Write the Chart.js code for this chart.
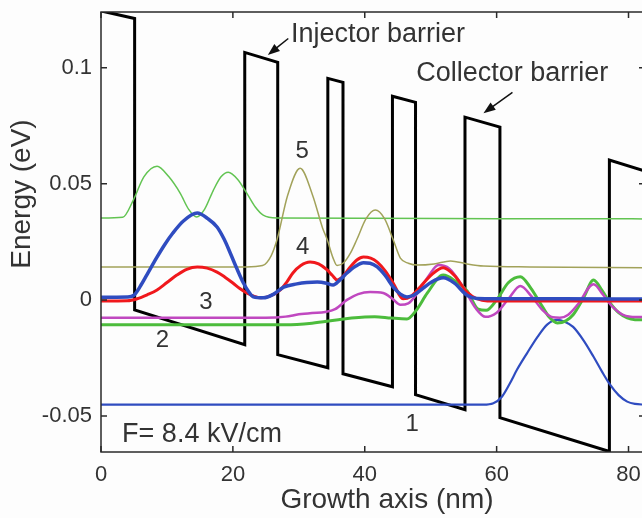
<!DOCTYPE html>
<html>
<head>
<meta charset="utf-8">
<title>Band diagram</title>
<script src="https://cdn.jsdelivr.net/npm/chart.js@4.4.1/dist/chart.umd.min.js"></script>
<style>
  html, body { margin: 0; padding: 0; background: #fdfdfd; overflow: hidden; }
  #wrap { width: 660px; height: 518px; }
</style>
</head>
<body>
<div id="wrap"><canvas id="chart" width="660" height="518"></canvas></div>
<script>
  // Axis ticks
  const xTicks = [0, 20, 40, 60, 80];
  const yTicks = [-0.05, 0, 0.05, 0.1];

  // Conduction band edge (nm, eV)
  const bandX = [0, 5.1, 5.1, 21.8, 21.8, 26.8, 26.8, 34.4, 34.4, 36.7, 36.7, 44.2, 44.2, 47.7, 47.7, 55.2, 55.2, 60.5, 60.5, 77.1, 77.1, 82.5];
  const bandE = [0.1245, 0.1212, -0.0043, -0.0193, 0.1066, 0.1023, -0.0236, -0.0292, 0.0954, 0.0937, -0.0318, -0.0374, 0.0877, 0.0851, -0.0408, -0.0473, 0.0787, 0.0744, -0.0507, -0.0653, 0.0602, 0.0555];

  // Level 1 (blue, lowest)
  const psi1X = [0, 58, 59.5, 60.8, 62, 63.1, 64.6, 66.2, 67.7, 69.2, 70.4, 71.6, 73.2, 74.7, 76, 77.2, 78.5, 79.8, 81, 82.5];
  const psi1E = [-0.0451, -0.0451, -0.0445, -0.0417, -0.036, -0.030, -0.023, -0.0159, -0.0105, -0.0086, -0.0095, -0.0116, -0.0175, -0.0245, -0.031, -0.0365, -0.041, -0.0438, -0.0448, -0.0451];

  // Level 2 (green)
  const psi2X = [0, 28, 32, 36, 38, 41.5, 44, 46.4, 47.8, 49.5, 51.9, 53.8, 55.5, 57.2, 58.4, 60, 61.8, 63.6, 65.2, 66.6, 68, 69.2, 70.5, 71.6, 73.2, 74.7, 76, 77.2, 78.5, 79.8, 81, 82.5];
  const psi2E = [-0.0107, -0.0107, -0.0100, -0.0085, -0.0078, -0.0072, -0.0078, -0.0082, -0.0045, 0.003, 0.0107, 0.008, 0.004, -0.004, -0.0045, 0.0, 0.0075, 0.0100, 0.005, -0.0013, -0.0075, -0.0099, -0.009, -0.0064, 0.001, 0.0086, 0.004, -0.0013, -0.0055, -0.0077, -0.0085, -0.0086];

  // Level 3 (magenta)
  const psi3X = [0, 25, 28, 30, 32, 34, 35.5, 37.3, 39, 40.8, 42.8, 44.2, 45.4, 46.6, 48, 49.6, 51.2, 52.8, 54.9, 56.8, 58.3, 60, 61.8, 63.6, 65.3, 67, 68.5, 69.6, 70.8, 72.3, 74.7, 76.2, 77.6, 79, 80.3, 82.5];
  const psi3E = [-0.0077, -0.0077, -0.0072, -0.0062, -0.0056, -0.0052, -0.004, 0.0, 0.0025, 0.0034, 0.003, 0.0005, -0.0021, -0.0015, 0.003, 0.010, 0.0150, 0.0135, 0.0056, -0.0035, -0.0073, -0.0055, 0.0005, 0.0060, 0.0015, -0.0045, -0.0075, -0.0077, -0.0065, -0.002, 0.0068, 0.002, -0.003, -0.0062, -0.0072, -0.0074];

  // Level 4 (red)
  const psi4X = [0, 4, 5.5, 7, 8.5, 10, 11.5, 13, 14.6, 16.1, 17.6, 18.8, 20, 21, 22.1, 23.1, 24.3, 25.5, 27.2, 28.2, 29.1, 30.3, 31.7, 33, 34.3, 35.1, 35.8, 36.8, 37.8, 38.8, 39.8, 40.9, 41.9, 43.1, 44.3, 45.8, 47, 48.4, 50.2, 51.9, 53.6, 55.5, 57, 58.6, 65, 82.5];
  const psi4E = [-0.0005, -0.0004, 0.0005, 0.0022, 0.0043, 0.0075, 0.0107, 0.0132, 0.0142, 0.0137, 0.012, 0.0098, 0.0073, 0.005, 0.003, 0.0017, 0.0009, 0.0015, 0.0043, 0.0078, 0.0116, 0.0148, 0.0163, 0.0155, 0.0129, 0.0105, 0.0086, 0.0105, 0.0142, 0.0172, 0.0185, 0.018, 0.0163, 0.0125, 0.0073, 0.0005, 0.0015, 0.0056, 0.011, 0.0138, 0.0105, 0.0034, 0.0005, -0.0005, -0.0005, -0.0005];

  // Blue thick state (peak in first well)
  const psiBX = [0, 4, 5, 5.9, 7, 8.4, 9.7, 10.9, 12.5, 14.6, 16.2, 17.6, 18.7, 19.6, 20.6, 21.6, 22.4, 23.1, 24.6, 26.2, 27.7, 29.7, 31.2, 32.8, 34.2, 35.2, 36.2, 37.3, 38.6, 39.8, 40.8, 41.9, 43.1, 44.3, 45.4, 46.4, 47.4, 48.6, 50.2, 51.9, 53.6, 55.5, 57, 60, 70, 82.5];
  const psiBE = [0.0012, 0.0013, 0.002, 0.0056, 0.011, 0.018, 0.024, 0.0288, 0.034, 0.0374, 0.035, 0.0314, 0.026, 0.0202, 0.0135, 0.0073, 0.0035, 0.0013, 0.0009, 0.0025, 0.0055, 0.0069, 0.0075, 0.0077, 0.0072, 0.0064, 0.0085, 0.0116, 0.0145, 0.016, 0.0158, 0.0142, 0.0105, 0.0056, 0.0025, 0.0013, 0.002, 0.0045, 0.0078, 0.0095, 0.0072, 0.002, 0.0006, 0.0005, 0.0005, 0.0004];

  // Level 5 (olive)
  const psi5X = [0, 22, 24.5, 25.8, 26.7, 28.3, 30.2, 32.1, 33.6, 34.3, 35.2, 35.8, 36.8, 37.8, 38.8, 40.2, 41.6, 43.0, 44.3, 45.4, 46.6, 48, 50.5, 53, 55.5, 58, 65, 82.5];
  const psi5E = [0.0142, 0.0142, 0.0148, 0.019, 0.026, 0.045, 0.0567, 0.045, 0.031, 0.026, 0.018, 0.0148, 0.016, 0.020, 0.026, 0.035, 0.0387, 0.035, 0.026, 0.018, 0.0158, 0.0150, 0.0155, 0.0168, 0.0155, 0.0146, 0.0142, 0.0138];

  // Upper state (light green)
  const psi6X = [0, 3.3, 4.9, 6.5, 8.5, 10.3, 12, 13.3, 14.5, 15.7, 17, 18.2, 19.3, 20.7, 22.1, 23.4, 24.6, 26.7, 40, 60, 82.5];
  const psi6E = [0.0353, 0.0356, 0.043, 0.053, 0.0576, 0.053, 0.046, 0.039, 0.0357, 0.039, 0.047, 0.053, 0.055, 0.052, 0.046, 0.040, 0.0365, 0.0353, 0.0352, 0.0350, 0.0349];

  // State numbers placed in data units
  const levelNames = ['1', '2', '3', '4', '5'];
  const levelNameX = [47.2, 9.3, 15.9, 30.6, 30.5];
  const levelNameE = [-0.0537, -0.0176, -0.0009, 0.0228, 0.064];

  const TEXT = '#333333';
  const FONT = '"Liberation Sans", Arial, sans-serif';

  function pts(xs, es) {
    return xs.map((x, i) => ({ x, y: es[i] }));
  }

  function curve(xs, es, color, width) {
    return {
      data: pts(xs, es),
      borderColor: color,
      borderWidth: width,
      pointRadius: 0,
      showLine: true,
      fill: false,
      cubicInterpolationMode: 'monotone',
    };
  }

  const datasets = [
    curve(psiBX, psiBE, '#2f4cc0', 3.5),
    curve(psi4X, psi4E, '#f0181c', 3),
    curve(psi3X, psi3E, '#c048c0', 2.5),
    curve(psi2X, psi2E, '#4cbc3c', 3),
    curve(psi5X, psi5E, '#a2a25a', 1.5),
    curve(psi6X, psi6E, '#62c452', 1.5),
    curve(psi1X, psi1E, '#2f4cc0', 2.2),
    {
      data: pts(bandX, bandE),
      borderColor: '#000000',
      borderWidth: 3,
      pointRadius: 0,
      showLine: true,
      fill: false,
      tension: 0,
    },
  ];

  function arrow(ctx, x0, y0, x1, y1) {
    const ang = Math.atan2(y1 - y0, x1 - x0);
    const len = 12, half = 4.5;
    ctx.beginPath();
    ctx.moveTo(x0, y0);
    ctx.lineTo(x1 - Math.cos(ang) * len * 0.8, y1 - Math.sin(ang) * len * 0.8);
    ctx.stroke();
    ctx.beginPath();
    ctx.moveTo(x1, y1);
    ctx.lineTo(x1 - Math.cos(ang) * len - Math.sin(ang) * half, y1 - Math.sin(ang) * len + Math.cos(ang) * half);
    ctx.lineTo(x1 - Math.cos(ang) * len + Math.sin(ang) * half, y1 - Math.sin(ang) * len - Math.cos(ang) * half);
    ctx.closePath();
    ctx.fill();
  }

  const decorPlugin = {
    id: 'decor',
    beforeDraw(chart) {
      const { ctx, width, height } = chart;
      ctx.save();
      ctx.fillStyle = '#fdfdfd';
      ctx.fillRect(0, 0, width, height);
      ctx.restore();
    },
    afterDatasetsDraw(chart) {
      const { ctx, chartArea: a } = chart;
      const xs = chart.scales.x, ys = chart.scales.y;

      // frame with inward ticks
      ctx.save();
      ctx.strokeStyle = '#2a2a2a';
      ctx.lineWidth = 1.5;
      ctx.strokeRect(a.left, a.top, a.right - a.left, a.bottom - a.top);
      ctx.beginPath();
      xTicks.forEach((v) => {
        const p = xs.getPixelForValue(v);
        ctx.moveTo(p, a.bottom); ctx.lineTo(p, a.bottom - 6);
        ctx.moveTo(p, a.top); ctx.lineTo(p, a.top + 6);
      });
      yTicks.forEach((v) => {
        const p = ys.getPixelForValue(v);
        ctx.moveTo(a.left, p); ctx.lineTo(a.left + 6, p);
        ctx.moveTo(a.right, p); ctx.lineTo(a.right - 6, p);
      });
      ctx.stroke();

      // state numbers
      ctx.fillStyle = TEXT;
      ctx.textAlign = 'center';
      ctx.textBaseline = 'middle';
      ctx.font = `24px ${FONT}`;
      levelNames.forEach((t, i) => {
        ctx.fillText(t, xs.getPixelForValue(levelNameX[i]), ys.getPixelForValue(levelNameE[i]));
      });

      // notes
      ctx.textAlign = 'left';
      ctx.textBaseline = 'alphabetic';
      ctx.font = `27px ${FONT}`;
      ctx.fillText('Injector barrier', xs.getPixelForValue(28.8), ys.getPixelForValue(0.1109));
      ctx.fillText('Collector barrier', xs.getPixelForValue(47.8), ys.getPixelForValue(0.0942));
      ctx.fillText('F= 8.4 kV/cm', xs.getPixelForValue(3.2), ys.getPixelForValue(-0.061));

      ctx.strokeStyle = '#111';
      ctx.fillStyle = '#111';
      ctx.lineWidth = 1.5;
      arrow(ctx, xs.getPixelForValue(28.4), ys.getPixelForValue(0.1126), xs.getPixelForValue(25.3), ys.getPixelForValue(0.1055));
      arrow(ctx, xs.getPixelForValue(62.4), ys.getPixelForValue(0.0894), xs.getPixelForValue(58.0), ys.getPixelForValue(0.0804));

      // axis titles
      ctx.fillStyle = TEXT;
      ctx.font = `28px ${FONT}`;
      ctx.textAlign = 'center';
      ctx.textBaseline = 'middle';
      ctx.fillText('Growth axis (nm)', 387, 500);
      ctx.translate(22, 194);
      ctx.rotate(-Math.PI / 2);
      ctx.fillText('Energy (eV)', 0, 0);
      ctx.restore();
    },
  };

  new Chart(document.getElementById('chart'), {
    type: 'scatter',
    data: { datasets },
    options: {
      responsive: false,
      animation: false,
      events: [],
      layout: { padding: { left: 0, top: 12, right: 15, bottom: 0 } },
      plugins: {
        legend: { display: false },
        tooltip: { enabled: false },
      },
      scales: {
        x: {
          type: 'linear',
          min: 0,
          max: 82.5,
          grid: { display: false, drawTicks: false },
          border: { display: false },
          afterBuildTicks: (s) => { s.ticks = xTicks.map((v) => ({ value: v })); },
          afterFit: (s) => { s.height = 66; s.paddingLeft = 0; s.paddingRight = 0; },
          ticks: {
            color: TEXT,
            padding: 10,
            maxRotation: 0,
            font: { family: FONT, size: 22 },
            callback: (v) => String(v),
          },
        },
        y: {
          type: 'linear',
          min: -0.0655,
          max: 0.124,
          grid: { display: false, drawTicks: false },
          border: { display: false },
          afterBuildTicks: (s) => { s.ticks = yTicks.map((v) => ({ value: v })); },
          afterFit: (s) => { s.width = 101; s.paddingTop = 0; s.paddingBottom = 0; },
          ticks: {
            color: TEXT,
            padding: 9,
            font: { family: FONT, size: 22 },
            callback: (v) => (v === 0 ? '0' : String(v)),
          },
        },
      },
    },
    plugins: [decorPlugin],
  });
</script>
</body>
</html>
